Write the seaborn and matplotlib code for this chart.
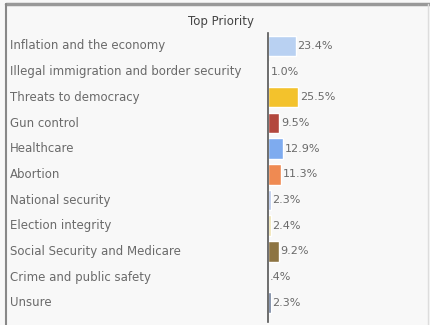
import matplotlib
matplotlib.use("Agg")
import matplotlib.pyplot as plt
import seaborn as sns
import pandas as pd
from matplotlib.lines import Line2D

# data
issues = [
    "Inflation and the economy",
    "Illegal immigration and border security",
    "Threats to democracy",
    "Gun control",
    "Healthcare",
    "Abortion",
    "National security",
    "Election integrity",
    "Social Security and Medicare",
    "Crime and public safety",
    "Unsure",
]
shares = [23.4, 1.0, 25.5, 9.5, 12.9, 11.3, 2.3, 2.4, 9.2, 0.4, 2.3]
value_labels = ["23.4%", "1.0%", "25.5%", "9.5%", "12.9%", "11.3%",
                "2.3%", "2.4%", "9.2%", ".4%", "2.3%"]
bar_colors = ["#b9d1f2", "#c9d3e6", "#f3c22c", "#b3473d", "#7eabef", "#ef8a52",
              "#b8c8ea", "#efe3b0", "#8d7442", "#d6dcef", "#6f7f9c"]

df = pd.DataFrame({"issue": issues, "share": shares})

sns.set_style("white")
bg = "#f8f8f8"
fig = plt.figure(figsize=(4.31, 3.25), dpi=100, facecolor=bg)
ax = fig.add_axes([268 / 431, 3 / 325, 160 / 431, 289 / 325])
ax.set_facecolor(bg)

sns.barplot(data=df, x="share", y="issue", hue="issue", palette=bar_colors,
            saturation=1, legend=False, width=0.8, ax=ax, orient="h")

ax.set_xlim(0, 134)
ax.set_ylim(10.75, -0.5)
ax.set_xlabel("")
ax.set_ylabel("")
ax.set_xticks([])
ax.set_yticks([])
for side in ["top", "right", "bottom"]:
    ax.spines[side].set_visible(False)
ax.spines["left"].set_color("#555555")
ax.spines["left"].set_linewidth(1.2)

text_color = "#6a6a6a"
for i, (name, v, lab) in enumerate(zip(issues, shares, value_labels)):
    ax.text(v + 1.2, i, lab, va="center", ha="left", fontsize=8, color=text_color)
    fig.text(10 / 431, 1 - (46 + i * 25.7) / 325, name, va="center", ha="left",
             fontsize=8.5, color=text_color)

fig.text(221 / 431, 1 - 22 / 325, "Top Priority", ha="center", va="center",
         fontsize=8.5, color="#444444")

# frame of the container
fig.add_artist(Line2D([6 / 431, 1], [1 - 4 / 325, 1 - 4 / 325], color="#999999", lw=2.5))
fig.add_artist(Line2D([6 / 431, 6 / 431], [0, 1 - 4 / 325], color="#888888", lw=1.5))
fig.add_artist(Line2D([428 / 431, 428 / 431], [0, 1 - 4 / 325], color="#dddddd", lw=1))

fig.savefig("out.png", dpi=100, facecolor=bg)
